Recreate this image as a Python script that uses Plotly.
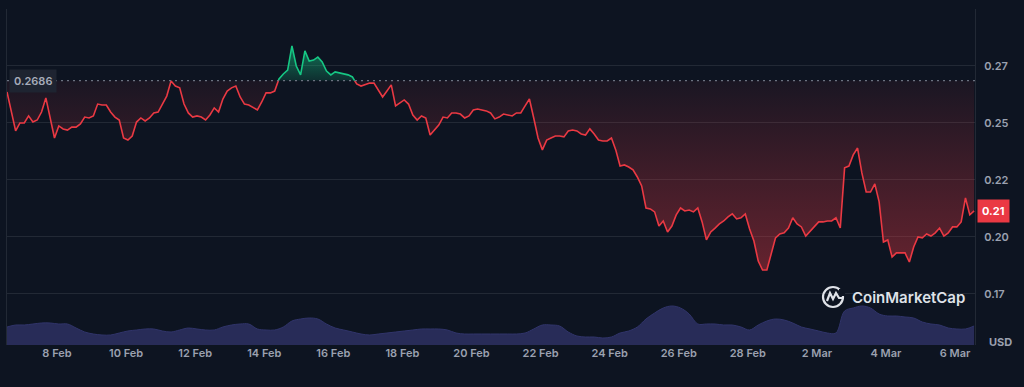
import plotly.graph_objects as go
import pandas as pd

# ---------------- data ----------------
start = "2025-02-06 13:15"
price = [
    0.2636, 0.2548, 0.2465, 0.2500, 0.2500, 0.2531, 0.2504, 0.2513, 0.2548, 0.2610,
    0.2522, 0.2434, 0.2487, 0.2474, 0.2469, 0.2482, 0.2482, 0.2496, 0.2526, 0.2522,
    0.2531, 0.2583, 0.2579, 0.2579, 0.2548, 0.2526, 0.2513, 0.2434, 0.2425, 0.2443,
    0.2504, 0.2522, 0.2509, 0.2522, 0.2544, 0.2548, 0.2583, 0.2618, 0.2684, 0.2662,
    0.2654, 0.2583, 0.2544, 0.2526, 0.2531, 0.2526, 0.2513, 0.2535, 0.2566, 0.2548,
    0.2605, 0.2640, 0.2654, 0.2662, 0.2614, 0.2583, 0.2579, 0.2566, 0.2557, 0.2592,
    0.2632, 0.2632, 0.2640, 0.2693, 0.2715, 0.2732, 0.2838, 0.2750, 0.2711, 0.2816,
    0.2772, 0.2776, 0.2789, 0.2768, 0.2728, 0.2711, 0.2724, 0.2719, 0.2715, 0.2711,
    0.2702, 0.2671, 0.2662, 0.2667, 0.2675, 0.2675, 0.2645, 0.2614, 0.2640, 0.2667,
    0.2575, 0.2588, 0.2601, 0.2583, 0.2535, 0.2513, 0.2531, 0.2522, 0.2447, 0.2469,
    0.2491, 0.2526, 0.2522, 0.2544, 0.2544, 0.2539, 0.2522, 0.2531, 0.2557, 0.2561,
    0.2557, 0.2553, 0.2544, 0.2518, 0.2526, 0.2539, 0.2535, 0.2531, 0.2544, 0.2544,
    0.2575, 0.2605, 0.2522, 0.2434, 0.2382, 0.2425, 0.2434, 0.2443, 0.2443, 0.2439,
    0.2465, 0.2469, 0.2465, 0.2452, 0.2447, 0.2474, 0.2452, 0.2425, 0.2421, 0.2421,
    0.2434, 0.2382, 0.2311, 0.2316, 0.2307, 0.2294, 0.2263, 0.2224, 0.2127, 0.2123,
    0.2110, 0.2048, 0.2070, 0.2022, 0.2048, 0.2097, 0.2127, 0.2114, 0.2118, 0.2110,
    0.2127, 0.2066, 0.1987, 0.2022, 0.2039, 0.2057, 0.2070, 0.2088, 0.2101, 0.2079,
    0.2084, 0.2101, 0.2035, 0.1982, 0.1894, 0.1855, 0.1855, 0.1930, 0.1996, 0.2013,
    0.2018, 0.2039, 0.2084, 0.2057, 0.2044, 0.2004, 0.2026, 0.2048, 0.2066, 0.2066,
    0.2070, 0.2070, 0.2084, 0.2039, 0.2303, 0.2311, 0.2360, 0.2390, 0.2281, 0.2197,
    0.2197, 0.2233, 0.2154, 0.1978, 0.1987, 0.1912, 0.1930, 0.1930, 0.1930, 0.1890,
    0.1956, 0.2000, 0.1996, 0.2013, 0.2004, 0.2018, 0.2039, 0.2004, 0.2018, 0.2044,
    0.2044, 0.2066, 0.2171, 0.2097, 0.2114,
]
# volume (relative units, 6-hour steps)
volume = [
    180, 200, 200, 210, 220, 220, 210, 210, 170, 130, 110, 100, 100, 120, 140, 150,
    160, 160, 140, 130, 150, 170, 160, 150, 150, 180, 200, 210, 210, 160, 150, 150,
    180, 240, 260, 270, 260, 210, 170, 150, 130, 110, 100, 110, 120, 130, 140, 150,
    160, 160, 160, 150, 120, 110, 110, 110, 110, 110, 110, 110, 120, 160, 200, 200,
    190, 130, 90, 80, 80, 70, 80, 120, 140, 180, 260, 320, 370, 390, 370, 310,
    210, 210, 210, 200, 200, 180, 150, 200, 240, 260, 250, 220, 180, 160, 140, 120,
    120, 340, 370, 390, 370, 310, 290, 290, 280, 270, 230, 210, 200, 170, 160, 160,
    190,
]
baseline = 0.2686
x_tick_dates = ["2025-02-08", "2025-02-10", "2025-02-12", "2025-02-14", "2025-02-16",
                "2025-02-18", "2025-02-20", "2025-02-22", "2025-02-24", "2025-02-26",
                "2025-02-28", "2025-03-02", "2025-03-04", "2025-03-06"]
x_tick_text = ["8 Feb", "10 Feb", "12 Feb", "14 Feb", "16 Feb", "18 Feb", "20 Feb",
               "22 Feb", "24 Feb", "26 Feb", "28 Feb", "2 Mar", "4 Mar", "6 Mar"]
y_tick_vals = [0.175, 0.2, 0.225, 0.25, 0.275, 0.3]
y_tick_text = ["0.17", "0.20", "0.22", "0.25", "0.27", ""]

# ---------------- styles ----------------
BG = "#0d1421"
RED = "#ea3943"
GREEN = "#16c784"
GRAY = "#9ba1b0"
LOGO = "#dfe2e8"
FONT = "Inter"

times = pd.date_range(start, periods=len(price), freq="3h")
vol_times = pd.date_range(start, periods=len(volume), freq="6h")

# insert baseline crossings so red/green parts meet exactly
tx, py = [], []
for i in range(len(price)):
    if i > 0:
        a, b = price[i - 1] - baseline, price[i] - baseline
        if a * b < 0:
            f = a / (a - b)
            tx.append(times[i - 1] + (times[i] - times[i - 1]) * f)
            py.append(baseline)
    tx.append(times[i])
    py.append(price[i])

eps = 1e-12
below = [min(p, baseline) for p in py]
above = [max(p, baseline) for p in py]
red_line = [p if p <= baseline + eps else None for p in py]
green_line = [p if p >= baseline - eps else None for p in py]
base_arr = [baseline] * len(tx)

fig = go.Figure()

# volume
fig.add_trace(go.Scatter(
    x=vol_times, y=volume, yaxis="y2", mode="lines",
    line=dict(color="#30346a", width=1, shape="spline"),
    fill="tozeroy", fillcolor="#282c58", hoverinfo="skip"))

# red fill (below baseline)
fig.add_trace(go.Scatter(x=tx, y=base_arr, mode="lines", line=dict(width=0),
                         hoverinfo="skip"))
fig.add_trace(go.Scatter(
    x=tx, y=below, mode="lines", line=dict(width=0), fill="tonexty",
    fillgradient=dict(type="vertical", start=0.18, stop=baseline,
                      colorscale=[[0, "rgba(234,57,67,0.42)"],
                                  [1, "rgba(234,57,67,0.06)"]]),
    hoverinfo="skip"))

# green fill (above baseline)
fig.add_trace(go.Scatter(x=tx, y=base_arr, mode="lines", line=dict(width=0),
                         hoverinfo="skip"))
fig.add_trace(go.Scatter(
    x=tx, y=above, mode="lines", line=dict(width=0), fill="tonexty",
    fillgradient=dict(type="vertical", start=baseline, stop=0.284,
                      colorscale=[[0, "rgba(22,199,132,0.15)"],
                                  [1, "rgba(22,199,132,0.55)"]]),
    hoverinfo="skip"))

# lines
fig.add_trace(go.Scatter(x=tx, y=red_line, mode="lines",
                         line=dict(color=RED, width=1.6), connectgaps=False))
fig.add_trace(go.Scatter(x=tx, y=green_line, mode="lines",
                         line=dict(color=GREEN, width=1.6), connectgaps=False))

# dotted baseline
fig.add_shape(type="line", xref="paper", x0=0.0, x1=1.0, y0=baseline, y1=baseline,
              line=dict(color="#6b7280", width=1.2, dash="2px,4px"), layer="above")

fig.update_layout(
    width=1024, height=387,
    margin=dict(l=7, r=49, t=9, b=42),
    paper_bgcolor=BG, plot_bgcolor=BG,
    showlegend=False, hovermode=False,
    font=dict(family=FONT, color=GRAY, size=11),
    xaxis=dict(
        type="date",
        range=["2025-02-06 13:15", "2025-03-06 13:52"],
        tickvals=x_tick_dates, ticktext=x_tick_text,
        showgrid=False, zeroline=False, showline=False, ticks="",
        tickfont=dict(family=FONT, color=GRAY, size=11, weight=600),
    ),
    yaxis=dict(
        range=[0.1526, 0.3000], side="right",
        tickvals=y_tick_vals, ticktext=y_tick_text,
        showgrid=True, gridcolor="rgba(255,255,255,0.09)", gridwidth=1,
        zeroline=False, showline=True, mirror=True,
        linecolor="rgba(255,255,255,0.09)", linewidth=1, ticks="",
        ticklabelstandoff=6,
        tickfont=dict(family=FONT, color=GRAY, size=11, weight=600),
    ),
    yaxis2=dict(overlaying="y", range=[0, 3360], visible=False),
)

# baseline value label
fig.add_annotation(xref="paper", x=0.002, y=baseline, xanchor="left", yanchor="middle",
                   text="0.2686", showarrow=False,
                   font=dict(family=FONT, color="#a6acba", size=11, weight=600),
                   bgcolor="#1e2431", borderpad=4)

# current price label
fig.add_annotation(xref="paper", x=1.0, y=price[-1], xanchor="left", yanchor="middle",
                   xshift=2, text="0.21", showarrow=False,
                   font=dict(family=FONT, color="#ffffff", size=11, weight=700),
                   bgcolor=RED, borderpad=4)

# currency label
fig.add_annotation(xref="paper", yref="paper", x=1.0, y=0.0, xanchor="left",
                   yanchor="middle", xshift=12, yshift=3, text="USD", showarrow=False,
                   font=dict(family=FONT, color=GRAY, size=11, weight=700))

# watermark
fig.add_annotation(xref="paper", yref="paper", x=(850 - 7) / 968, y=(345 - 297) / 336,
                   xanchor="left", yanchor="middle", text="CoinMarketCap",
                   showarrow=False,
                   font=dict(family=FONT, color=LOGO, size=15, weight=600))
ax, ay = (833 - 7) / 968, (345 - 297) / 336
fig.add_shape(type="circle", xref="paper", yref="paper", xsizemode="pixel",
              ysizemode="pixel", xanchor=ax, yanchor=ay,
              x0=-10, x1=10, y0=-10, y1=10,
              line=dict(color=LOGO, width=2.2))
fig.add_shape(type="rect", xref="paper", yref="paper", xsizemode="pixel",
              ysizemode="pixel", xanchor=ax, yanchor=ay,
              x0=6, x1=12, y0=1, y1=8, fillcolor=BG, line=dict(width=0))
fig.add_shape(type="path", xref="paper", yref="paper", xsizemode="pixel",
              ysizemode="pixel", xanchor=ax, yanchor=ay,
              path="M -6,-4 L -3,4 L 0,-2 L 3,4 L 6,-1 L 10,-1",
              line=dict(color=LOGO, width=2.2))

fig.write_html("out.html", config={"displayModeBar": False},
               post_script="document.body.style.margin='0px';")
